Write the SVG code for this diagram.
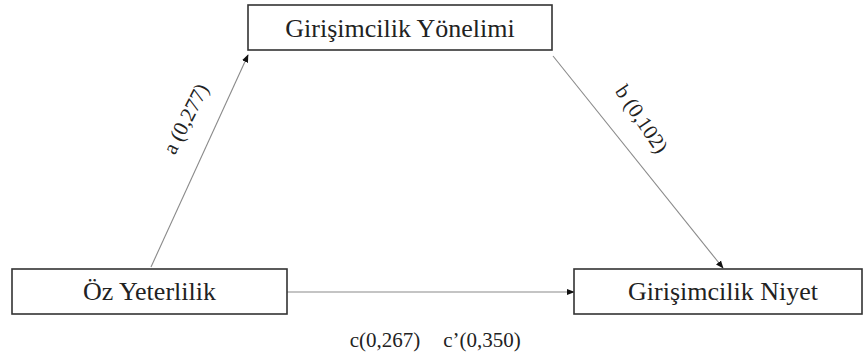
<svg xmlns="http://www.w3.org/2000/svg" width="868" height="358" viewBox="0 0 868 358">
<style>
.box{fill:#fff;stroke:#333;stroke-width:1.6}
.lbl{font-size:26px;fill:#222;text-anchor:middle}
.el{font-size:21px;fill:#222;text-anchor:middle}
.edge{stroke:#8a8a8a;stroke-width:1.1;fill:none;marker-end:url(#ah)}
</style>
<defs>
<marker id="ah" viewBox="0 0 10 10" refX="9" refY="5" markerWidth="8" markerHeight="8" markerUnits="userSpaceOnUse" orient="auto">
<path d="M0,1 L10,5 L0,9 z" fill="#111"/>
</marker>
</defs>
<g id="connectors">
<line class="edge" x1="151" y1="267" x2="248" y2="55"/>
<line class="edge" x1="553" y1="56" x2="723" y2="268"/>
<line class="edge" x1="287" y1="292" x2="574" y2="292"/>
</g>
<g font-family="'Liberation Serif', 'DejaVu Serif', serif">
<g id="node-yonelim">
<rect class="box" x="248" y="5" width="304" height="45"/>
<text class="lbl" x="400" y="37">Girişimcilik Yönelimi</text>
</g>
<g id="node-oz">
<rect class="box" x="12" y="269" width="275" height="45"/>
<text class="lbl" x="149.5" y="300">Öz Yeterlilik</text>
</g>
<g id="node-niyet">
<rect class="box" x="574" y="269" width="288" height="45"/>
<text class="lbl" x="723" y="300">Girişimcilik Niyet</text>
</g>
<g id="labels">
<text class="el" transform="translate(192,122) rotate(-63)">a (0,277)</text>
<text class="el" transform="translate(636,123) rotate(56)">b (0,102)</text>
<text class="el" x="385" y="347">c(0,267)</text>
<text class="el" x="482" y="347">c’(0,350)</text>
</g>
</g>
</svg>
